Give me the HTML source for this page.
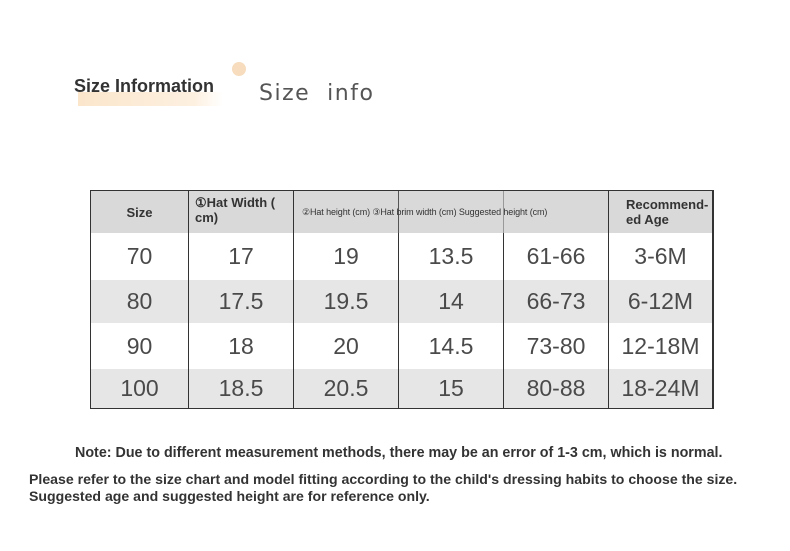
<!DOCTYPE html>
<html><head><meta charset="utf-8"><style>
body{margin:0;width:790px;height:551px;background:#fff;position:relative;overflow:hidden;font-family:"Liberation Sans",sans-serif;color:#333}
.a{position:absolute;white-space:nowrap}
.cell{position:absolute;display:flex;align-items:center;justify-content:center;font-size:23px;color:#4a4a4a;box-sizing:border-box;border-right:1px solid #333;white-space:nowrap}
.h{font-size:13px;font-weight:bold;color:#333;justify-content:flex-start;padding-left:6px;line-height:15px}
</style></head><body>
<div class="a" style="left:78px;top:92px;width:145px;height:14px;background:linear-gradient(90deg,#fbe6cc,#fdf0e0 80%,#fff)"></div>
<div class="a" style="left:232px;top:62px;width:14px;height:14px;border-radius:50%;background:#f7dcbd"></div>
<div class="a" style="left:74px;top:76px;font-size:18px;font-weight:bold;color:#333">Size Information</div>
<div class="a" style="left:259px;top:81px;font-size:22px;color:#555;letter-spacing:1.5px;font-family:'DejaVu Sans',sans-serif">Size&nbsp; info</div>

<div class="a" style="left:90px;top:190px;width:624px;height:219px;border:1px solid #333;border-right:none;box-sizing:border-box;background:#fff"></div>
<div class="a" style="left:91px;top:191px;width:622px;height:42px;background:#d9d9d9"></div>
<div class="a" style="left:91px;top:280px;width:622px;height:43px;background:#e6e6e6"></div>
<div class="a" style="left:91px;top:369px;width:622px;height:39px;background:#e6e6e6"></div>
<div class="a" style="left:712px;top:190px;width:2px;height:44px;background:#333"></div>

<div class="cell h" style="left:91px;top:191px;width:98px;height:42px;justify-content:center;padding:0">Size</div>
<div class="cell h" style="left:189px;top:191px;width:105px;height:42px;align-items:flex-start;padding-top:4px">①Hat Width (<br>cm)</div>
<div class="a" style="left:398px;top:191px;width:1px;height:42px;background:#555"></div>
<div class="a" style="left:503px;top:191px;width:1px;height:42px;background:#999"></div>
<div class="a" style="left:608px;top:191px;width:1px;height:42px;background:#333"></div>
<div class="a" style="left:302px;top:207px;font-size:9px;color:#333;letter-spacing:-0.1px">②Hat height (cm) ③Hat brim width (cm) Suggested height (cm)</div>
<div class="cell h" style="left:609px;top:191px;width:105px;height:42px;padding-left:17px;border-right:none">Recommend-<br>ed Age</div>

<div id="rows"></div>
<script>
var rows=[["70","17","19","13.5","61-66","3-6M",233,47],["80","17.5","19.5","14","66-73","6-12M",280,43],["90","18","20","14.5","73-80","12-18M",323,46],["100","18.5","20.5","15","80-88","18-24M",369,39]];
var xs=[91,189,294,399,504,609,714],h="";
rows.forEach(function(r){for(var i=0;i<6;i++){h+='<div class="cell" style="left:'+xs[i]+'px;top:'+r[6]+'px;width:'+(xs[i+1]-xs[i])+'px;height:'+r[7]+'px;'+(i==5?'border-right:2px solid #333;':'')+'">'+r[i]+'</div>';}});
document.getElementById('rows').innerHTML=h;
</script>

<div class="a" style="left:75px;top:445px;font-size:14.3px;font-weight:bold;color:#333">Note: Due to different measurement methods, there may be an error of 1-3 cm, which is normal.</div>
<div class="a" style="left:29px;top:471px;font-size:14.1px;font-weight:bold;color:#333;line-height:17px">Please refer to the size chart and model fitting according to the child's dressing habits to choose the size.<br>Suggested age and suggested height are for reference only.</div>
</body></html>
